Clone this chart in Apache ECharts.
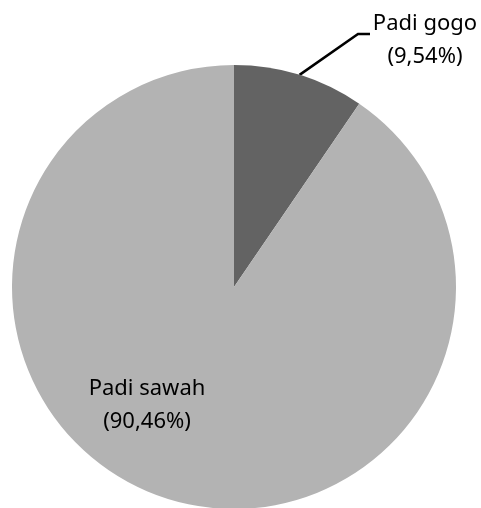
<!DOCTYPE html>
<html>
<head>
<meta charset="utf-8">
<script src="https://cdn.jsdelivr.net/npm/echarts@6/dist/echarts.min.js"></script>
<style>
html,body{margin:0;padding:0;background:#fff;}
#chart{width:481px;height:508px;}
</style>
</head>
<body>
<div id="chart"></div>
<script>
var categories = ['Padi gogo', 'Padi sawah'];
var values = [9.54, 90.46];
var valueLabels = ['9,54%', '90,46%'];
var colorData = ['#636363', '#b3b3b3'];

function pieData(){
    var arr = [];
    for(var i=0;i<categories.length;i++){
        var item = {name: categories[i], value: values[i], itemStyle: {color: colorData[i]}};
        if(i==0){
            item.label = {position: 'outside'};
            item.labelLine = {show: true, length: 40, length2: 10, lineStyle: {color: '#000', width: 2.5}};
        }else{
            item.label = {position: 'inside'};
            item.labelLine = {show: false};
        }
        arr.push(item);
    }
    return arr;
}

var pie1 = echarts.init(document.getElementById('chart'));
var option = {
    animation: false,
    series: [{
        type: 'pie',
        center: [234, 287],
        radius: 222,
        startAngle: 90,
        clockwise: true,
        avoidLabelOverlap: false,
        itemStyle: {borderWidth: 0},
        label: {
            show: true,
            fontFamily: 'Noto Sans',
            fontSize: 22,
            lineHeight: 33,
            color: '#000',
            align: 'center',
            formatter: function(p){
                return p.name + '\n(' + valueLabels[p.dataIndex] + ')';
            }
        },
        labelLayout: function(params){
            if(params.dataIndex == 0){
                var p0 = params.labelLinePoints ? params.labelLinePoints[0] : [300, 75];
                return {
                    x: 425, y: 40, align: 'center', verticalAlign: 'middle',
                    labelLinePoints: [p0, [358, 34], [370, 34]]
                };
            }
            return {x: 147, y: 405, align: 'center', verticalAlign: 'middle'};
        },
        data: pieData()
    }]
};
pie1.setOption(option);
</script>
</body>
</html>
